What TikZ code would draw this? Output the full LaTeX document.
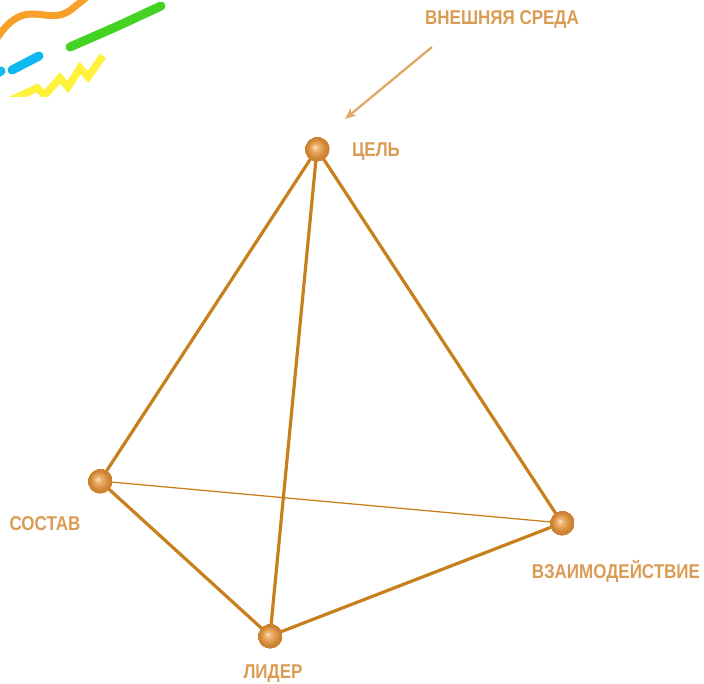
\documentclass[tikz,border=0pt]{standalone}
\usepackage{fontspec}
\setmainfont{Liberation Sans}[FakeStretch=0.85]
\usetikzlibrary{arrows.meta}
\definecolor{edgec}{HTML}{C8801C}
\definecolor{textc}{HTML}{DA9C55}
\definecolor{arrc}{HTML}{E0A865}
\definecolor{sorange}{RGB}{247,160,42}
\definecolor{sgreen}{RGB}{68,211,34}
\definecolor{sblue}{RGB}{14,185,240}
\definecolor{syellow}{RGB}{255,242,58}
\pgfdeclareradialshading{orb}{\pgfpoint{-5pt}{4pt}}{%
  color(0pt)=(rgb,255:red,255;green,240;blue,220);
  color(4pt)=(rgb,255:red,242;green,192;blue,130);
  color(12pt)=(rgb,255:red,225;green,158;blue,80);
  color(20pt)=(rgb,255:red,205;green,130;blue,50);
  color(25pt)=(rgb,255:red,205;green,130;blue,50)}
\tikzset{
  edge/.style={draw=edgec, line width=3.2pt},
  thinedge/.style={draw=edgec, line width=1.3pt},
  ballnode/.style={circle, minimum size=25pt, inner sep=0pt, shading=orb},
  lbl/.style={text=textc, font=\bfseries\fontsize{20}{21}\selectfont, inner sep=0pt},
  scribble/.style={line width=#1, line cap=round, line join=round},
}
\begin{document}
\begin{tikzpicture}[x=1pt,y=-1pt]
\useasboundingbox (0,0) rectangle (704,684);
% decorative strokes
\begin{scope}
\clip (0,0) rectangle (704,97);
\draw[scribble=7pt, color=sorange] (-3,38) .. controls (8,22) and (18,14) .. (32,14) .. controls (46,14) and (58,20) .. (72,9) .. controls (78,4) and (82,1) .. (88,-4);
\draw[scribble=9pt, color=sgreen] (70,47) -- (118,26) -- (161,6);
\draw[scribble=9pt, color=sblue] (12,70) -- (39,56);
\draw[scribble=9pt, color=sblue] (-6,75) -- (1,71);
\draw[line width=7.5pt, line join=miter, color=syellow] (11,100) -- (37,88) -- (45,95) -- (60,78) -- (68,87) -- (80,68) -- (88,77) -- (103,56);
\end{scope}
% nodes
\node[ballnode] (cel) at (317,149) {};
\node[ballnode] (sost) at (100,481) {};
\node[ballnode] (vz) at (562,523) {};
\node[ballnode] (lid) at (270,636) {};
% edges
\draw[thinedge] (sost.center) -- (vz.center);
\draw[edge] (cel.center) -- (sost.center);
\draw[edge] (cel.center) -- (vz.center);
\draw[edge] (cel.center) -- (lid.center);
\draw[edge] (sost.center) -- (lid.center);
\draw[edge] (lid.center) -- (vz.center);
% redraw balls on top
\node[ballnode] at (cel) {};
\node[ballnode] at (sost) {};
\node[ballnode] at (vz) {};
\node[ballnode] at (lid) {};
% labels
\node[lbl] (lcel) at (376,152) {ЦЕЛЬ};
\node[lbl] (lsost) at (45,524) {СОСТАВ};
\node[lbl] (lvz) at (616,571) {ВЗАИМОДЕЙСТВИЕ};
\node[lbl] (llid) at (273,674) {ЛИДЕР};
\node[lbl] (lenv) at (502,20) {ВНЕШНЯЯ СРЕДА};
\coordinate (astart) at (432,47);
\coordinate (aend) at (345,119);
\draw[draw=arrc, line width=2.3pt, -{Stealth[length=11pt,width=9pt,inset=3pt]}] (astart) -- (aend);
\end{tikzpicture}
\end{document}
